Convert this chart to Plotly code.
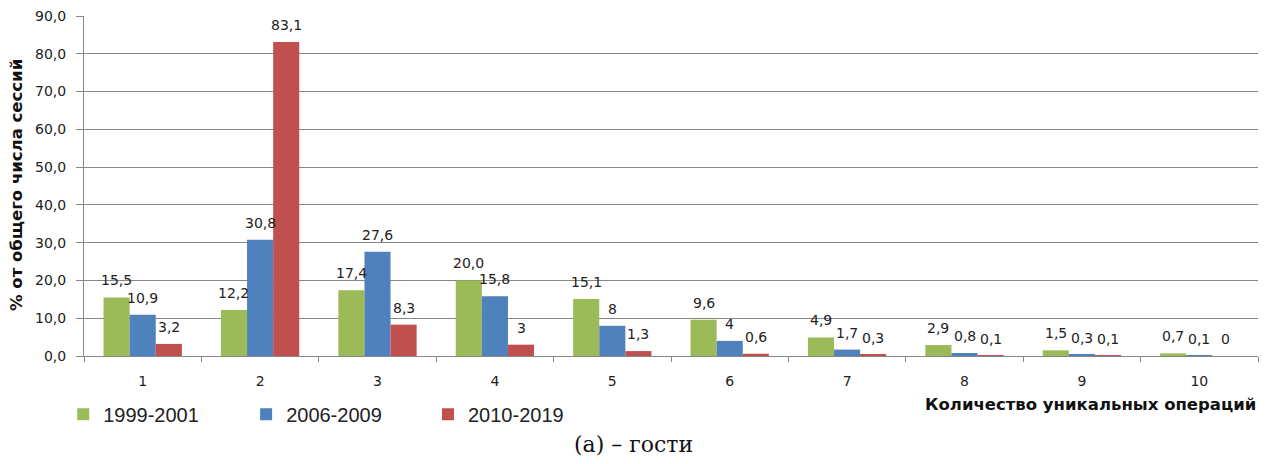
import plotly.graph_objects as go

categories = ["1", "2", "3", "4", "5", "6", "7", "8", "9", "10"]
series_names = ["1999-2001", "2006-2009", "2010-2019"]
v1999 = [15.5, 12.2, 17.4, 20.0, 15.1, 9.6, 4.9, 2.9, 1.5, 0.7]
v2006 = [10.9, 30.8, 27.6, 15.8, 8, 4, 1.7, 0.8, 0.3, 0.1]
v2010 = [3.2, 83.1, 8.3, 3, 1.3, 0.6, 0.3, 0.1, 0.1, 0]
lbl1999 = ["15,5", "12,2", "17,4", "20,0", "15,1", "9,6", "4,9", "2,9", "1,5", "0,7"]
lbl2006 = ["10,9", "30,8", "27,6", "15,8", "8", "4", "1,7", "0,8", "0,3", "0,1"]
lbl2010 = ["3,2", "83,1", "8,3", "3", "1,3", "0,6", "0,3", "0,1", "0,1", "0"]

colors = ["#9BBB59", "#4F81BD", "#C0504D"]
FONT = "DejaVu Sans"
# page has an 8px body margin, so the figure is 16px smaller than the window
W, H = 1253, 448
ML, MR, MT, MB = 76, 3, 8, 100
BARGAP = 0.333
plot_w = W - ML - MR
bar_px = plot_w / len(categories) * (1 - BARGAP) / 3

fig = go.Figure()
annotations = []
series = [(v1999, lbl1999), (v2006, lbl2006), (v2010, lbl2010)]
for i, (vals, lbls) in enumerate(series):
    fig.add_trace(go.Bar(
        x=categories, y=vals, name=series_names[i],
        marker=dict(color=colors[i], line=dict(width=0)),
        legend="legend" if i == 0 else f"legend{i+1}",
    ))
    for k, (v, t) in enumerate(zip(vals, lbls)):
        annotations.append(dict(
            x=k, y=v, xref="x", yref="y", text=t, showarrow=False,
            xanchor="center", yanchor="bottom", xshift=(i - 1) * bar_px, yshift=7,
            font=dict(family=FONT, size=14, color="#222222")))

legend_common = dict(orientation="h", yanchor="middle", y=-0.171, xanchor="left",
                     font=dict(family="Liberation Sans", size=20, color="#222222"),
                     bgcolor="rgba(0,0,0,0)", itemwidth=30)
annotations += [
    dict(text="<b>% от общего числа сессий</b>", textangle=-90, xref="paper", yref="paper",
         x=(17 - 84) / plot_w, y=0.503, showarrow=False, xanchor="center", yanchor="middle",
         font=dict(family=FONT, size=16.5, color="#111111")),
    dict(text="<b>Количество уникальных операций</b>", xref="paper", yref="paper",
         x=1.0, y=-0.144, showarrow=False, xanchor="right", yanchor="middle",
         font=dict(family=FONT, size=16.5, color="#111111")),
    dict(text="(a) – гости", xref="paper", yref="paper",
         x=(633 - 84) / plot_w, y=-0.26, showarrow=False, xanchor="center", yanchor="middle",
         font=dict(family="DejaVu Serif", size=22, color="#111111")),
]

fig.update_layout(
    width=W, height=H,
    margin=dict(l=ML, r=MR, t=MT, b=MB, autoexpand=False),
    paper_bgcolor="white", plot_bgcolor="white",
    separators=", ",
    barmode="group", bargap=BARGAP, bargroupgap=0,
    showlegend=True,
    legend=dict(legend_common, x=-0.0177),
    legend2=dict(legend_common, x=0.1381),
    legend3=dict(legend_common, x=0.2930),
    xaxis=dict(type="category", tickson="boundaries", ticks="outside", ticklen=5,
               tickcolor="#868686", showline=True, linecolor="#868686", linewidth=1,
               showgrid=False, ticklabelstandoff=12, automargin=False,
               ticklabeloverflow="allow",
               tickfont=dict(family=FONT, size=14, color="#222222")),
    yaxis=dict(range=[0, 90], dtick=10, tickformat=".1f", ticks="outside", ticklen=7,
               tickcolor="#868686", showline=True, linecolor="#868686", linewidth=1,
               showgrid=True, gridcolor="#868686", gridwidth=1, zeroline=False,
               ticklabelstandoff=7, automargin=False, ticklabeloverflow="allow",
               tickfont=dict(family=FONT, size=14, color="#222222")),
    annotations=annotations,
)
fig.write_html("out.html")
